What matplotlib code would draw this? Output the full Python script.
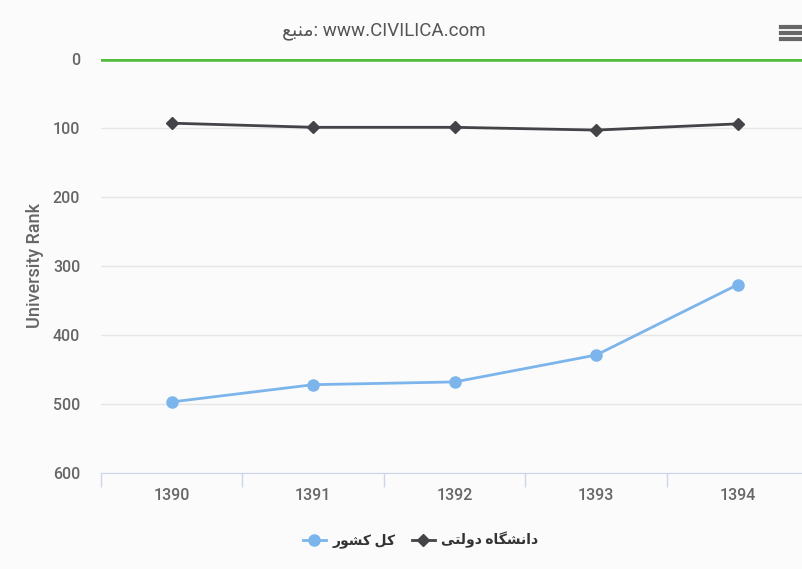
import matplotlib
matplotlib.use('Agg')
import matplotlib.pyplot as plt
from matplotlib.lines import Line2D

plt.rcParams['font.family'] = ['Roboto', 'DejaVu Sans']

years = ['1390', '1391', '1392', '1393', '1394']
state_uni = [93, 99, 99, 103, 94]
whole_country = [497, 472, 468, 429, 327]
y_ticks = [0, 100, 200, 300, 400, 500, 600]

title_fa = 'منبع'
label_country = 'کل کشور'
label_state = 'دانشگاه دولتی'

# Arabic presentation forms: isolated, final, initial, medial
forms = {
    'ا': ('\uFE8D', '\uFE8E', None, None),
    'ب': ('\uFE8F', '\uFE90', '\uFE91', '\uFE92'),
    'ت': ('\uFE95', '\uFE96', '\uFE97', '\uFE98'),
    'د': ('\uFEA9', '\uFEAA', None, None),
    'ر': ('\uFEAD', '\uFEAE', None, None),
    'ش': ('\uFEB5', '\uFEB6', '\uFEB7', '\uFEB8'),
    'ع': ('\uFEC9', '\uFECA', '\uFECB', '\uFECC'),
    'ل': ('\uFEDD', '\uFEDE', '\uFEDF', '\uFEE0'),
    'م': ('\uFEE1', '\uFEE2', '\uFEE3', '\uFEE4'),
    'ن': ('\uFEE5', '\uFEE6', '\uFEE7', '\uFEE8'),
    'ه': ('\uFEE9', '\uFEEA', '\uFEEB', '\uFEEC'),
    'و': ('\uFEED', '\uFEEE', None, None),
    'ک': ('\uFB8E', '\uFB8F', '\uFB90', '\uFB91'),
    'گ': ('\uFB92', '\uFB93', '\uFB94', '\uFB95'),
    'ی': ('\uFBFC', '\uFBFD', '\uFBFE', '\uFBFF'),
}


def shape(txt):
    out = []
    for i, ch in enumerate(txt):
        if ch not in forms:
            out.append(ch)
            continue
        prev = txt[i - 1] if i > 0 else ''
        nxt = txt[i + 1] if i + 1 < len(txt) else ''
        join_prev = prev in forms and forms[prev][2] is not None
        join_next = nxt in forms and forms[ch][2] is not None
        f = forms[ch]
        if join_prev and join_next:
            out.append(f[3])
        elif join_prev:
            out.append(f[1])
        elif join_next:
            out.append(f[2])
        else:
            out.append(f[0])
    return ''.join(out)[::-1]


bg = '#fbfbfb'
fig = plt.figure(figsize=(8.03, 5.69), dpi=100, facecolor=bg)
ax = fig.add_axes([101 / 803, 96 / 569, 707.5 / 803, 414 / 569], facecolor=bg)

x = list(range(len(years)))
ax.axhline(0, color='#52bd3c', lw=4, zorder=3)
ax.plot(x, state_uni, color='#434348', lw=2, marker='D', ms=6, zorder=4,
        label=shape(label_state))
ax.plot(x, whole_country, color='#7cb5ec', lw=2, marker='o', ms=8, zorder=4,
        label=shape(label_country))

ax.set_xlim(-0.5, 4.5)
ax.set_ylim(600, 0)
ax.set_yticks(y_ticks)
ax.set_yticklabels([str(v) for v in y_ticks])
ax.grid(axis='y', color='#e6e6e6', lw=1)
ax.set_axisbelow(True)
ax.tick_params(axis='y', length=0, pad=15, labelsize=11.5, labelcolor='#666666')

ax.set_xticks([i - 0.5 for i in range(len(years) + 1)])
ax.set_xticklabels([])
ax.set_xticks(x, minor=True)
ax.set_xticklabels(years, minor=True)
ax.tick_params(axis='x', which='major', length=10, color='#ccd6eb', width=1)
ax.tick_params(axis='x', which='minor', length=0, pad=11, labelsize=11.5,
               labelcolor='#666666')
for t in ax.get_yticklabels() + ax.get_xticklabels(minor=True):
    t.set_fontweight('medium')

for s in ['top', 'right', 'left']:
    ax.spines[s].set_visible(False)
ax.spines['bottom'].set_color('#ccd6eb')

fig.text(35 / 803, 1 - 265 / 569, 'University Rank', rotation=90, ha='center',
         va='center', fontsize=13, color='#666666', fontweight='medium')
fig.text(384 / 803, 1 - 31 / 569, shape(title_fa) + ': www.CIVILICA.com',
         ha='center', va='center', fontsize=13.5, color='#555555')

h, l = ax.get_legend_handles_labels()
leg = fig.legend(h[::-1], l[::-1], loc='center', bbox_to_anchor=(421 / 803, 1 - 540 / 569),
                 ncol=2, frameon=False, fontsize=10, handlelength=1.6,
                 columnspacing=1.2, handletextpad=0.5)
for t in leg.get_texts():
    t.set_fontweight('bold')
    t.set_color('#333333')

for yy in [27, 33, 39]:
    fig.add_artist(Line2D([781 / 803, 803 / 803], [1 - yy / 569, 1 - yy / 569],
                          color='#666666', lw=3, transform=fig.transFigure))

fig.savefig('out.png', dpi=100, facecolor=bg)
